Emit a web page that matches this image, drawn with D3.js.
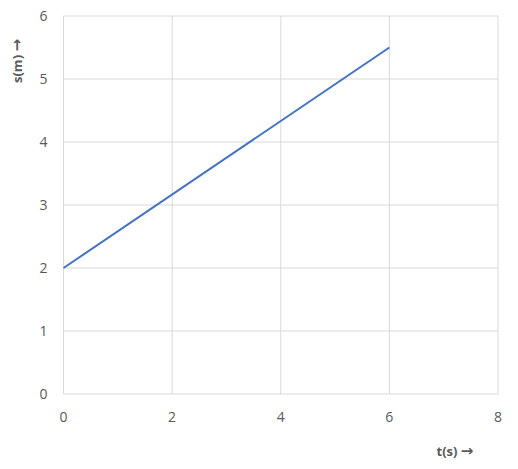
<!DOCTYPE html>
<html>
<head>
<meta charset="utf-8">
<script src="https://cdn.jsdelivr.net/npm/d3@7"></script>
<style>
  body { margin: 0; background: #fff; }
  text { font-family: "Open Sans", "Liberation Sans", sans-serif; fill: #595959; }
</style>
</head>
<body>
<div id="chart"></div>
<script>
// data
var tValues = [0, 6];
var sValues = [2, 5.5];
var xTicks = [0, 2, 4, 6, 8];
var yTicks = [0, 1, 2, 3, 4, 5, 6];

var W = 518, H = 469;
var margin = { top: 16, right: 20, bottom: 75, left: 63.5 };

var svg = d3.select("#chart").append("svg")
  .attr("width", W)
  .attr("height", H);

var x = d3.scaleLinear().domain([0, 8]).range([margin.left, 498]);
var y = d3.scaleLinear().domain([0, 6]).range([394, margin.top]);

// gridlines
svg.append("g")
  .selectAll("line.v")
  .data(xTicks)
  .enter().append("line")
  .attr("x1", function (d) { return x(d); })
  .attr("x2", function (d) { return x(d); })
  .attr("y1", y(0))
  .attr("y2", y(6))
  .attr("stroke", "#d9d9d9")
  .attr("stroke-width", 1);

svg.append("g")
  .selectAll("line.h")
  .data(yTicks)
  .enter().append("line")
  .attr("x1", x(0))
  .attr("x2", x(8))
  .attr("y1", function (d) { return y(d); })
  .attr("y2", function (d) { return y(d); })
  .attr("stroke", "#d9d9d9")
  .attr("stroke-width", 1);

// tick labels
svg.append("g")
  .selectAll("text")
  .data(xTicks)
  .enter().append("text")
  .attr("x", function (d) { return x(d); })
  .attr("y", y(0) + 28)
  .attr("text-anchor", "middle")
  .style("font-size", "14px")
  .text(function (d) { return d; });

svg.append("g")
  .selectAll("text")
  .data(yTicks)
  .enter().append("text")
  .attr("x", x(0) - 16)
  .attr("y", function (d) { return y(d) + 5; })
  .attr("text-anchor", "end")
  .style("font-size", "14px")
  .text(function (d) { return d; });

// the line
var line = d3.line()
  .x(function (d, i) { return x(tValues[i]); })
  .y(function (d) { return y(d); });

svg.append("path")
  .datum(sValues)
  .attr("d", line)
  .attr("fill", "none")
  .attr("stroke", "#4472c4")
  .attr("stroke-width", 2);

// axis titles
var xt = svg.append("text")
  .attr("x", 455)
  .attr("y", 456)
  .attr("text-anchor", "middle")
  .style("font-size", "13px")
  .style("font-weight", "bold");
xt.append("tspan").text("t(s) ");
xt.append("tspan").style("font-family", "DejaVu Sans").style("font-size", "15px").text("\u2192");

var yt = svg.append("text")
  .attr("transform", "translate(22,61) rotate(-90)")
  .attr("text-anchor", "middle")
  .style("font-size", "13px")
  .style("font-weight", "bold");
yt.append("tspan").text("s(m) ");
yt.append("tspan").style("font-family", "DejaVu Sans").style("font-size", "15px").text("\u2192");
</script>
</body>
</html>
